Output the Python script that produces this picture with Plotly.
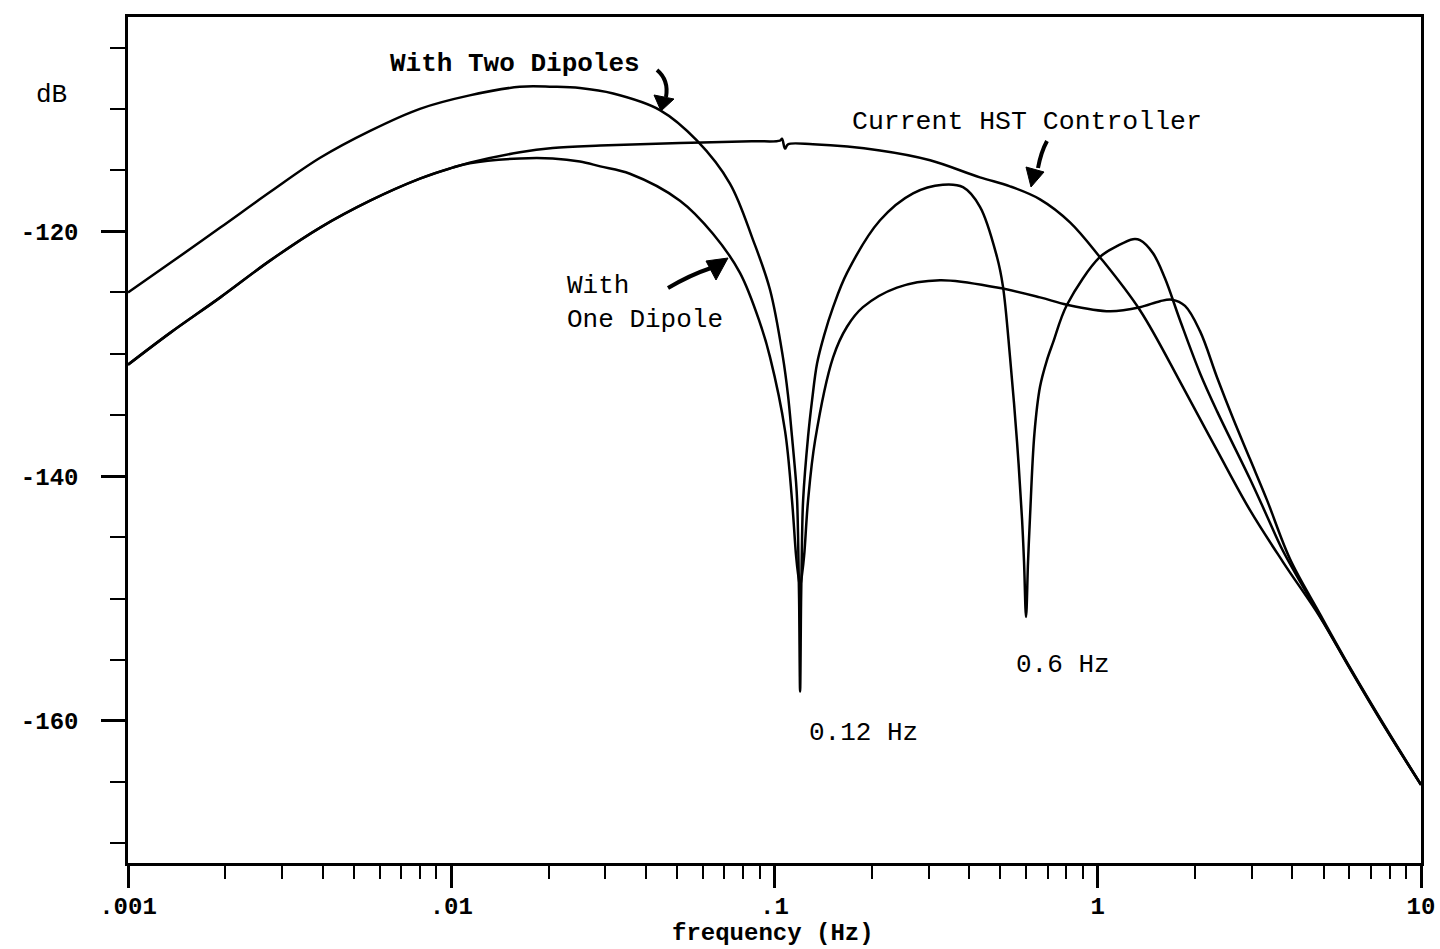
import plotly.graph_objects as go

# ---------------- data ----------------
freq_hst = [0.001, 0.00135, 0.00193, 0.00275, 0.00393, 0.00561, 0.0080, 0.0101, 0.0114,
            0.0163, 0.0206, 0.0289, 0.051, 0.085, 0.1040, 0.1055, 0.1078, 0.1101, 0.1315,
            0.212, 0.303, 0.432, 0.5354, 0.6628, 0.8207, 1.016, 1.351, 1.835, 2.338, 2.958,
            3.743, 4.87, 6.032, 7.738, 10.0]
db_hst = [-130.9, -128.3, -125.4, -122.4, -119.7, -117.5, -115.7, -114.8, -114.4,
          -113.55, -113.2, -113.0, -112.8, -112.65, -112.6, -112.45, -113.25, -112.9, -112.9,
          -113.4, -114.2, -115.6, -116.33, -117.39, -119.27, -122.12, -126.45, -132.73, -137.88, -142.78,
          -147.02, -151.51, -155.75, -160.55, -165.22]

freq_two = [0.001, 0.00135, 0.00193, 0.00275, 0.00393, 0.00561, 0.0080, 0.0114, 0.0163,
            0.0206, 0.025, 0.0317, 0.0442, 0.0576, 0.0728, 0.0858, 0.0969, 0.1062, 0.1100,
            0.1133, 0.1166, 0.1175, 0.1183, 0.11915, 0.1200, 0.12086, 0.1217, 0.1226, 0.1270,
            0.1307, 0.1354, 0.1424, 0.1518, 0.1676, 0.2121, 0.2683, 0.3316, 0.3829, 0.4322,
            0.4879, 0.509, 0.5354, 0.5627, 0.5831, 0.5915, 0.600, 0.6086, 0.6173, 0.637, 0.6628,
            0.695, 0.7271, 0.8033, 1.016, 1.15, 1.285, 1.351, 1.4825, 1.614, 1.797, 2.072, 2.338,
            2.958, 3.339, 3.743, 4.87, 6.032, 7.738, 10.0]
db_two = [-125.0, -122.6, -119.7, -116.8, -114.0, -111.8, -110.0, -108.9, -108.2,
          -108.2, -108.3, -108.75, -110.1, -112.6, -116.1, -120.7, -124.8, -130.3, -133.3,
          -136.8, -140.5, -142.0, -145.0, -150.0, -157.6, -150.0, -145.0, -142.0, -136.8,
          -133.8, -130.8, -128.5, -126.2, -123.4, -119.1, -116.9, -116.2, -116.4, -118.0,
          -122.1, -124.5, -130.3, -137.2, -143.5, -147.0, -151.5, -147.0, -143.3, -136.5, -132.7,
          -130.6, -129.1, -126.0, -122.1, -121.2, -120.65, -120.73, -121.8, -123.84, -127.27, -131.59, -134.69,
          -140.24, -143.27, -146.12, -151.43, -155.7, -160.5, -165.22]

freq_one = [0.001, 0.00135, 0.00193, 0.00275, 0.00393, 0.00561, 0.0080, 0.0101, 0.0114,
            0.0163, 0.0206, 0.025, 0.0289, 0.0357, 0.051, 0.0645, 0.0782, 0.0902, 0.0969,
            0.1078, 0.1133, 0.1166, 0.1183, 0.1200, 0.1217, 0.1235, 0.1270, 0.1335, 0.1518,
            0.1676, 0.1878, 0.2393, 0.3251, 0.4879, 0.6628, 0.8033, 1.091, 1.351, 1.558, 1.697,
            1.862, 2.072, 2.338, 2.621, 2.958, 3.339, 3.934, 4.87, 6.032, 7.738, 10.0]
db_one = [-130.9, -128.3, -125.4, -122.4, -119.7, -117.5, -115.7, -114.8, -114.45,
          -114.05, -114.05, -114.3, -114.7, -115.3, -117.5, -120.2, -123.4, -127.5, -130.3,
          -136.3, -142.0, -146.5, -148.0, -149.0, -148.0, -146.5, -142.0, -137.1, -130.3,
          -127.8, -126.2, -124.6, -124.0, -124.6, -125.4, -126.0, -126.53, -126.2, -125.71, -125.59,
          -126.1, -128.16, -131.92, -135.27, -138.61, -141.96, -146.78, -151.27, -155.65, -160.45, -165.2]

x_major = [0.001, 0.01, 0.1, 1, 10]
x_major_text = [".001", ".01", ".1", "1", "10"]
x_minor = [m * d for d in (0.001, 0.01, 0.1, 1) for m in range(2, 10)]
y_major = [-120, -140, -160]
y_major_text = ["-120", "-140", "-160"]
y_minor = [-170, -165, -155, -150, -145, -135, -130, -125, -115, -110, -105]

# ---------------- figure ----------------
W, H = 1440, 949
ML, MR, MT, MB = 128, 19, 17, 86
PW, PH = W - ML - MR, H - MT - MB


def pp(px, py):
    """pixel position -> paper coords (for decorations only)"""
    return (px - ML) / PW, (H - MB - py) / PH


fig = go.Figure()
for name, fx, fy in [("Current HST Controller", freq_hst, db_hst),
                     ("With Two Dipoles", freq_two, db_two),
                     ("With One Dipole", freq_one, db_one)]:
    fig.add_trace(go.Scatter(x=fx, y=fy, mode="lines", name=name,
                             line=dict(color="black", width=2.5, shape="spline", smoothing=1.0),
                             hoverinfo="x+y+name"))

mono = "Liberation Mono, Courier New, monospace"
tickfont = dict(family=mono, size=24, color="black", weight="bold")

fig.update_layout(
    width=W, height=H, margin=dict(l=ML, r=MR, t=MT, b=MB, autoexpand=False),
    paper_bgcolor="white", plot_bgcolor="white", showlegend=False,
    xaxis=dict(type="log", range=[-3, 1], showline=True, linecolor="black", linewidth=2.5,
               mirror=True, showgrid=False, zeroline=False, automargin=False,
               ticks="outside", ticklen=22, tickwidth=2.5, tickcolor="black",
               tickmode="array", tickvals=x_major, ticktext=x_major_text,
               tickfont=tickfont, ticklabelstandoff=-3,
               minor=dict(tickmode="array", tickvals=x_minor, ticks="outside",
                          ticklen=13, tickwidth=2, tickcolor="black", showgrid=False)),
    yaxis=dict(range=[-171.6, -102.5], showline=True, linecolor="black", linewidth=2.5,
               mirror=True, showgrid=False, zeroline=False, automargin=False,
               ticks="outside", ticklen=24, tickwidth=2.5, tickcolor="black",
               tickmode="array", tickvals=y_major, ticktext=y_major_text,
               tickfont=tickfont, ticklabelstandoff=18,
               minor=dict(tickmode="array", tickvals=y_minor, ticks="outside",
                          ticklen=15, tickwidth=2, tickcolor="black", showgrid=False)),
)

txt = dict(family=mono, size=26, color="black")
labels = [
    ("With Two Dipoles", 515, 64, "center", dict(txt, weight="bold")),
    ("Current HST Controller", 1027, 122, "center", dict(txt, size=26.5)),
    ("With<br>One Dipole", 565, 303, "left", txt),
    ("0.12 Hz", 863, 733, "center", txt),
    ("0.6 Hz", 1063, 665, "center", txt),
    ("dB", 51, 95, "center", txt),
    ("frequency (Hz)", 773, 933, "center", dict(txt, weight="bold", size=24)),
]
for t, px, py, anchor, f in labels:
    x, y = pp(px, py)
    fig.add_annotation(text=t, x=x, y=y, xref="paper", yref="paper", showarrow=False,
                       xanchor=anchor, yanchor="middle", align="left", font=f)

# hand-drawn style arrows
arrows = [
    # shaft start, control, end ; head tip, base1, base2
    ((657, 70), (669, 80), (666, 97), (661, 111), (654, 95), (674, 99)),
    ((1047, 141), (1041, 152), (1038, 168), (1031, 187), (1026, 167), (1044, 172)),
    ((668, 288), (690, 275), (711, 268), (728, 258), (706, 261), (716, 280)),
]
for s, c, e, tip, b1, b2 in arrows:
    s_, c_, e_ = pp(*s), pp(*c), pp(*e)
    fig.add_shape(type="path", xref="paper", yref="paper",
                  path=f"M {s_[0]},{s_[1]} Q {c_[0]},{c_[1]} {e_[0]},{e_[1]}",
                  line=dict(color="black", width=4))
    t_, b1_, b2_ = pp(*tip), pp(*b1), pp(*b2)
    fig.add_shape(type="path", xref="paper", yref="paper",
                  path=f"M {t_[0]},{t_[1]} L {b1_[0]},{b1_[1]} L {b2_[0]},{b2_[1]} Z",
                  fillcolor="black", line=dict(color="black", width=1))

fig.write_html("out.html")
